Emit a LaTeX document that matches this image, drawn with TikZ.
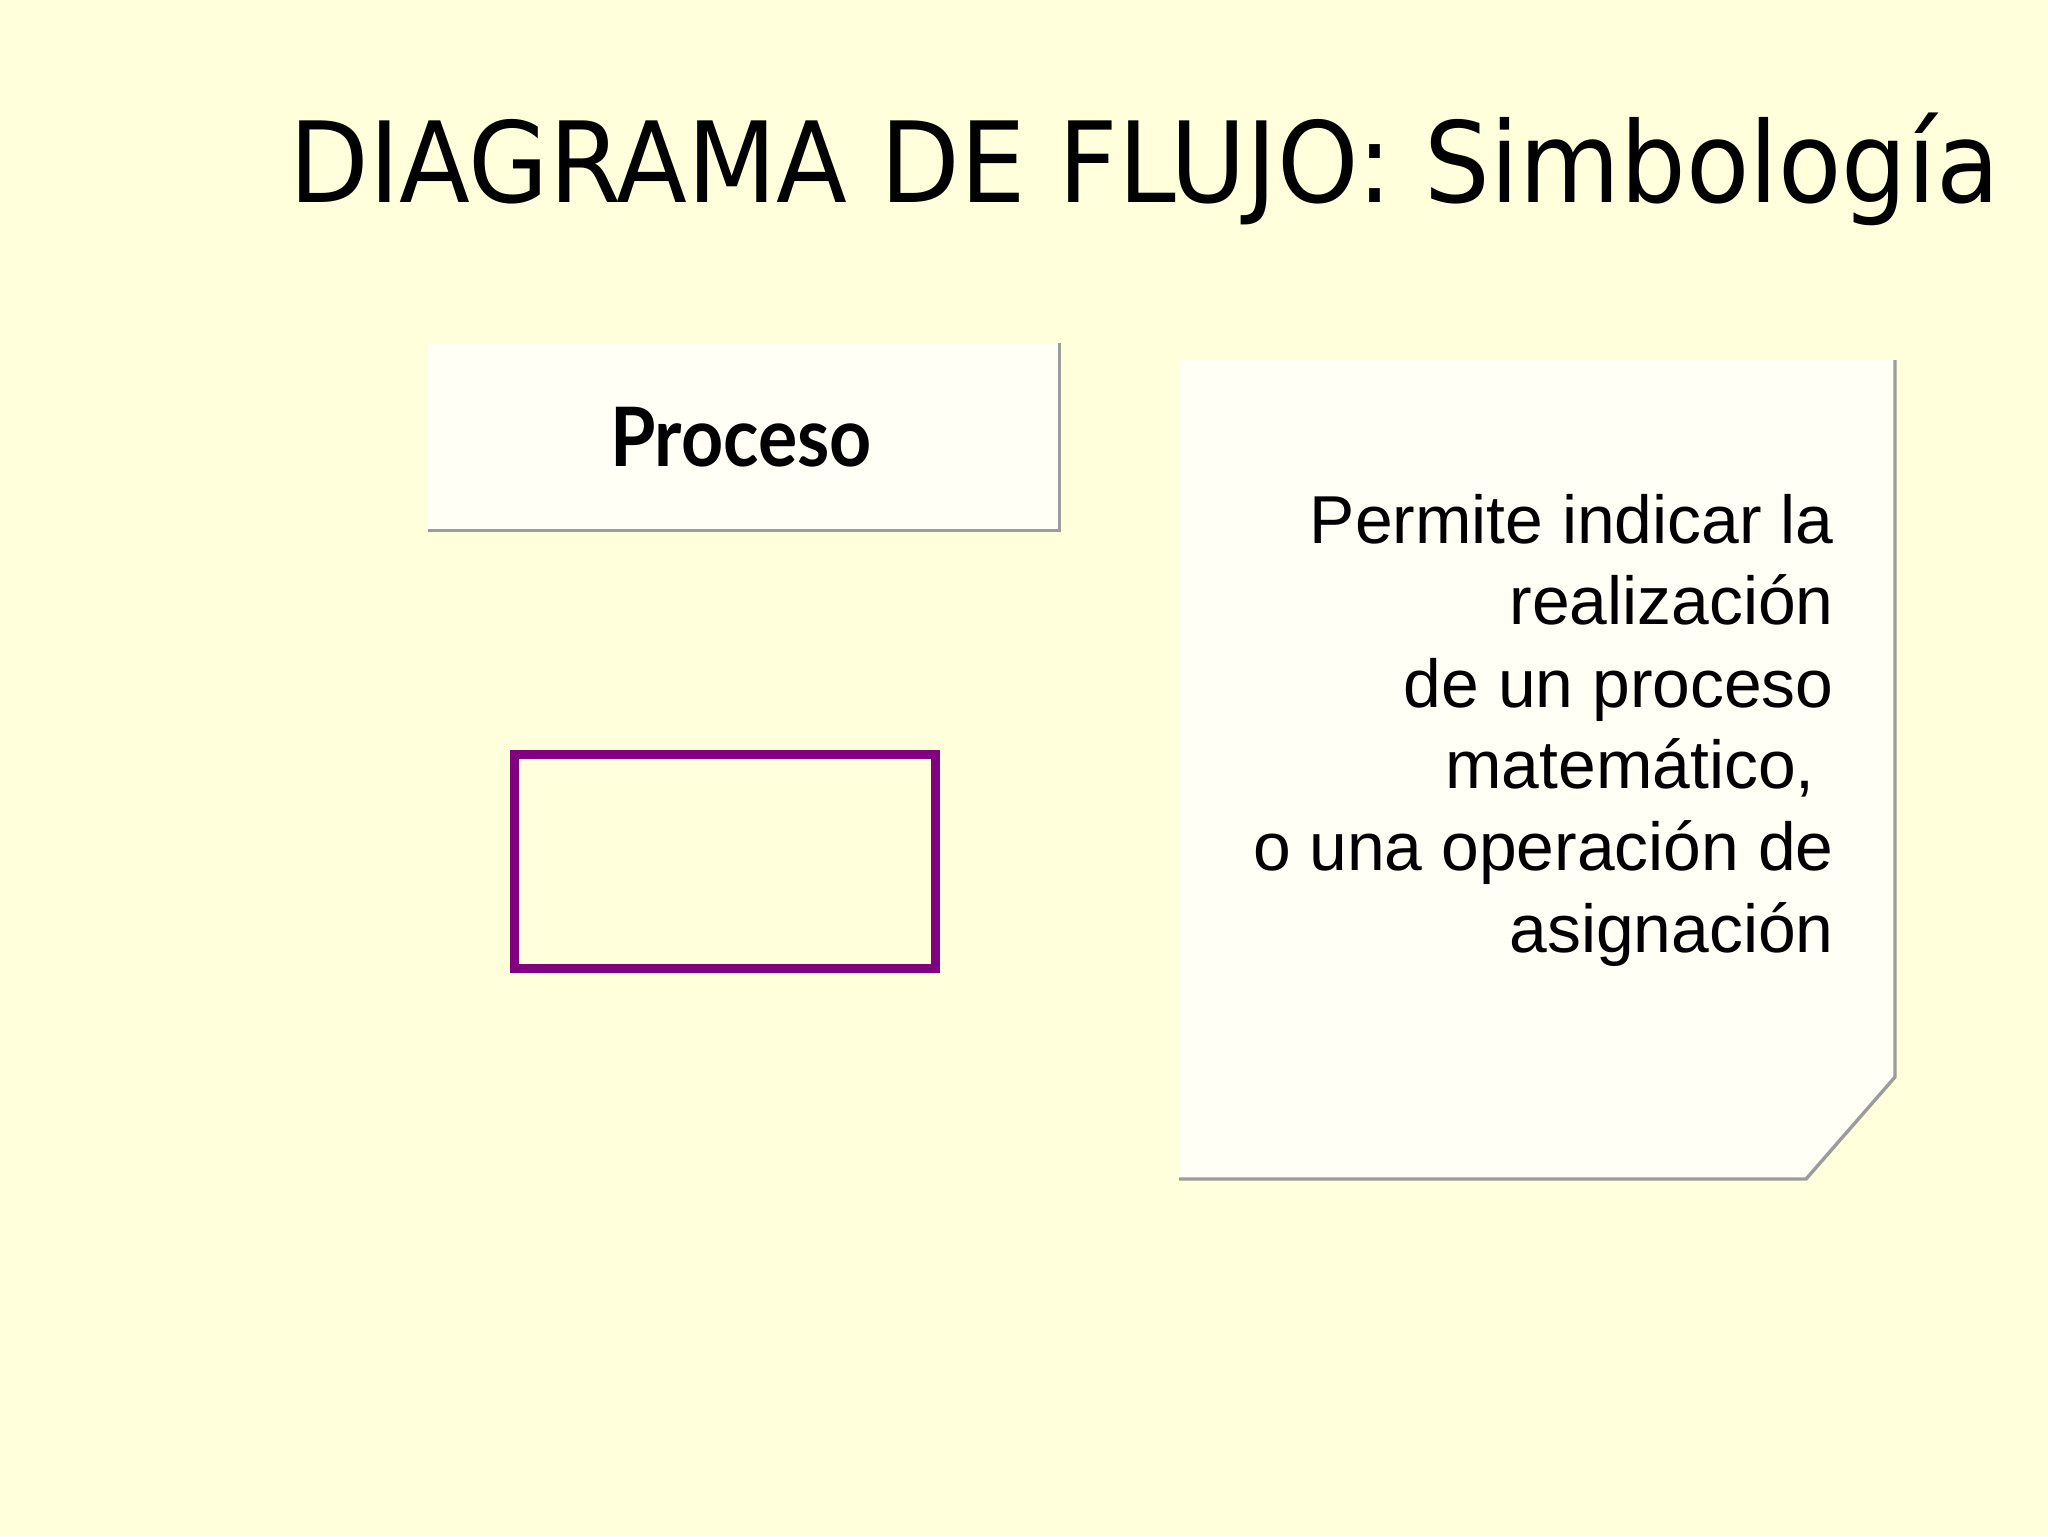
\documentclass[tikz,border=0pt]{standalone}
\usepackage{fontspec}
\usepackage{graphicx}
\setmainfont{Liberation Sans}
\newfontfamily\titlefont{DejaVu Sans}
\newfontfamily\handfont{Lato}
\definecolor{bgc}{HTML}{FFFFDC}
\definecolor{boxc}{HTML}{FFFFF6}
\definecolor{shadowc}{HTML}{9C9C9C}
\definecolor{procpurple}{HTML}{800080}
\tikzset{
  shadowline/.style={draw=shadowc, line width=1.7pt},
  notetext/.style={anchor=base east, inner sep=0pt, font=\fontsize{33.9}{41}\selectfont},
}
\begin{document}
\begin{tikzpicture}[x=0.5pt,y=-0.5pt]
\fill[bgc] (0,0) rectangle (2048,1536);
\useasboundingbox (0,0) rectangle (2048,1536);

% title
\node[anchor=base west, inner sep=0pt] (title) at (289,202)
  {\titlefont\fontsize{56}{60}\selectfont\resizebox{855pt}{\height}{DIAGRAMA DE FLUJO: Simbología}};

% Proceso label box
\node[fill=boxc, minimum width=315.5pt, minimum height=93.5pt, inner sep=0pt] (pbox) at (743.5,436.5) {};
\draw[shadowline] (pbox.north east) -- (pbox.south east) -- (pbox.south west);
\node[anchor=base, inner sep=0pt] (ptext) at (741,466)
  {\handfont\bfseries\fontsize{41}{44}\selectfont\resizebox{131pt}{\height}{Proceso}};

% process symbol
\node[draw=procpurple, line width=4.5pt, minimum width=210.5pt, minimum height=107pt, inner sep=0pt] (proc) at (725,861.5) {};

% note
\coordinate (n1) at (1179,360);
\coordinate (n2) at (1895,360);
\coordinate (n3) at (1895,1077);
\coordinate (n4) at (1806,1179);
\coordinate (n5) at (1179,1179);
\fill[boxc] (n1) -- (n2) -- (n3) -- (n4) -- (n5) -- cycle;
\draw[shadowline] (n2) -- (n3) -- (n4) -- (n5);

\node[notetext] (l1) at (1834,543) {Permite indicar la};
\node[notetext] (l2) at (1834,624) {realización};
\node[notetext] (l3) at (1834,707) {de un proceso};
\node[notetext] (l4) at (1834,788) {matemático,\hspace*{0.278em}};
\node[notetext] (l5) at (1834,870) {o una operación de};
\node[notetext] (l6) at (1834,952) {asignación};
\end{tikzpicture}
\end{document}
